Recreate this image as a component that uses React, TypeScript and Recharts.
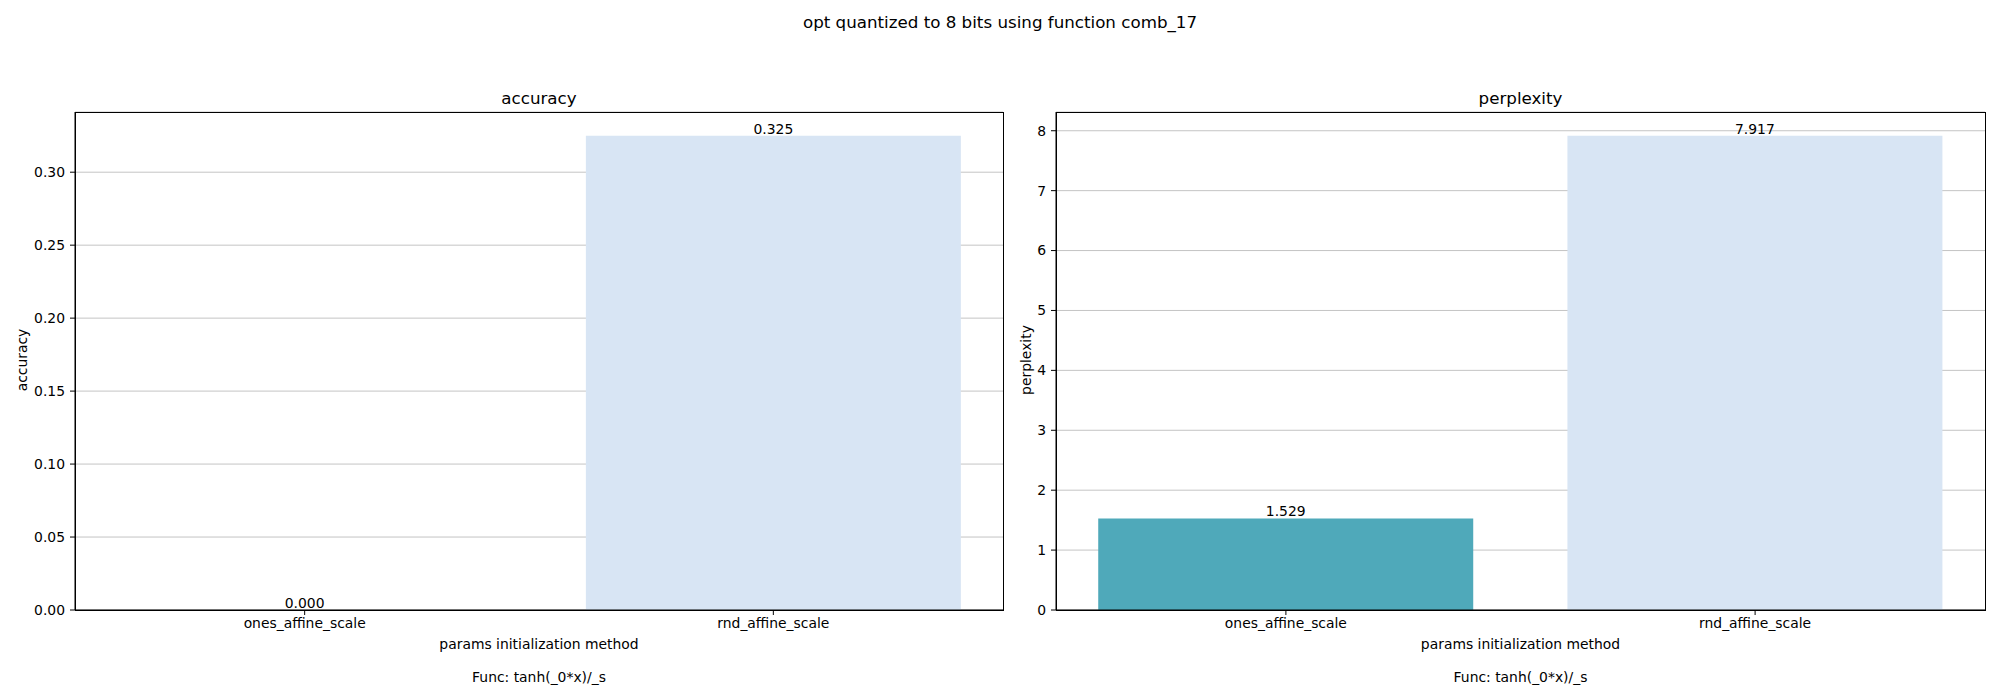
import React from "react";
import { BarChart, Bar, XAxis, YAxis, CartesianGrid, Cell, LabelList, ReferenceDot } from "recharts";

const categories = ["ones_affine_scale", "rnd_affine_scale"];
const accuracyValues = [0.0, 0.325];
const perplexityValues = [1.529, 7.917];
const barColors = ["#4fa9ba", "#d8e5f4"];
const accuracyTicks = [0, 0.05, 0.1, 0.15, 0.2, 0.25, 0.3];
const perplexityTicks = [0, 1, 2, 3, 4, 5, 6, 7, 8];

const FONT = "'DejaVu Sans', sans-serif";

const accData = categories.map((c, i) => ({ name: c, value: accuracyValues[i] }));
const pplData = categories.map((c, i) => ({ name: c, value: perplexityValues[i] }));

type PanelProps = {
  left: number;
  width: number;
  marginLeft: number;
  marginRight: number;
  yWidth: number;
  data: { name: string; value: number }[];
  domainMax: number;
  ticks: number[];
  fmt: (v: number) => string;
  title: string;
  ylabel: string;
  ylabelX: number;
  plotLeft: number;
  plotRight: number;
};

const PLOT_TOP = 112;
const PLOT_BOTTOM = 610;

function Panel(p: PanelProps) {
  const cx = (p.plotLeft + p.plotRight) / 2;
  const pad = -0.00505 * (p.plotRight - p.plotLeft);
  const text = (content: string, x: number, y: number, size: number) => (
    <div
      style={{
        position: "absolute",
        left: x - 400,
        width: 800,
        top: y - size * 0.6,
        textAlign: "center",
        fontFamily: FONT,
        fontSize: size,
        lineHeight: `${size * 1.2}px`,
        color: "#000",
        whiteSpace: "nowrap",
      }}
    >
      {content}
    </div>
  );
  const zeroEntries = p.data.filter((d) => d.value === 0);
  return (
    <>
      <div style={{ position: "absolute", left: p.left, top: 0 }}>
        <BarChart
          width={p.width}
          height={700}
          data={p.data}
          margin={{ top: PLOT_TOP, right: p.marginRight, bottom: 60, left: p.marginLeft }}
          barCategoryGap="10%"
        >
          <CartesianGrid vertical={false} horizontal={true} stroke="#c4c4c4" strokeWidth={1} />
          <XAxis
            dataKey="name"
            height={30}
            padding={{ left: pad, right: pad }}
            tickSize={5}
            tickMargin={3}
            axisLine={{ stroke: "#000", strokeWidth: 1 }}
            tickLine={{ stroke: "#000", strokeWidth: 1 }}
            tick={{ fill: "#000", fontSize: 13.9, fontFamily: FONT }}
          />
          <YAxis
            width={p.yWidth}
            domain={[0, p.domainMax]}
            ticks={p.ticks}
            tickFormatter={p.fmt}
            interval={0}
            tickSize={5}
            tickMargin={5}
            allowDataOverflow
            axisLine={{ stroke: "#000", strokeWidth: 1 }}
            tickLine={{ stroke: "#000", strokeWidth: 1 }}
            tick={{ fill: "#000", fontSize: 13.9, fontFamily: FONT }}
          />
          <Bar dataKey="value" isAnimationActive={false}>
            {p.data.map((d, i) => (
              <Cell key={d.name} fill={barColors[i]} />
            ))}
            <LabelList
              dataKey="value"
              position="top"
              offset={2}
              formatter={(v: number) => Number(v).toFixed(3)}
              style={{ fill: "#000", fontSize: 13.9, fontFamily: FONT }}
            />
          </Bar>
          {zeroEntries.map((d) => (
            <ReferenceDot
              key={d.name}
              x={d.name}
              y={d.value}
              r={0}
              stroke="none"
              fill="none"
              ifOverflow="visible"
              label={{
                value: d.value.toFixed(3),
                position: "top",
                offset: 2,
                fill: "#000",
                fontSize: 13.9,
                fontFamily: FONT,
              }}
            />
          ))}
        </BarChart>
      </div>
      <div
        style={{
          position: "absolute",
          left: p.plotLeft - 0.5,
          top: PLOT_TOP - 0.5,
          width: p.plotRight - p.plotLeft + 1,
          height: PLOT_BOTTOM - PLOT_TOP + 1,
          border: "1px solid #000",
          boxSizing: "border-box",
          pointerEvents: "none",
        }}
      />
      {text(p.title, cx, 98, 16.7)}
      {text("params initialization method", cx, 644, 13.9)}
      {text("Func: tanh(_0*x)/_s", cx, 677, 13.9)}
      <div
        style={{
          position: "absolute",
          left: p.ylabelX - 100,
          top: 360 - 10,
          width: 200,
          height: 20,
          textAlign: "center",
          transform: "rotate(-90deg)",
          fontFamily: FONT,
          fontSize: 13.9,
          lineHeight: "20px",
          color: "#000",
        }}
      >
        {p.ylabel}
      </div>
    </>
  );
}

export default function App() {
  return (
    <div style={{ position: "absolute", left: 0, top: 0, width: 2000, height: 700, background: "#fff", overflow: "hidden" }}>
      <div
        style={{
          position: "absolute",
          left: 0,
          width: 2000,
          top: 12,
          textAlign: "center",
          fontFamily: FONT,
          fontSize: 16.7,
          lineHeight: "20px",
          color: "#000",
        }}
      >
        opt quantized to 8 bits using function comb_17
      </div>
      <Panel
        left={0}
        width={1010}
        marginLeft={15}
        marginRight={7}
        yWidth={60}
        data={accData}
        domainMax={0.34125}
        ticks={accuracyTicks}
        fmt={(v) => v.toFixed(2)}
        title="accuracy"
        ylabel="accuracy"
        ylabelX={22}
        plotLeft={75}
        plotRight={1003}
      />
      <Panel
        left={1000}
        width={1000}
        marginLeft={6}
        marginRight={15}
        yWidth={50}
        data={pplData}
        domainMax={8.31285}
        ticks={perplexityTicks}
        fmt={(v) => String(v)}
        title="perplexity"
        ylabel="perplexity"
        ylabelX={1026}
        plotLeft={1056}
        plotRight={1985}
      />
    </div>
  );
}
